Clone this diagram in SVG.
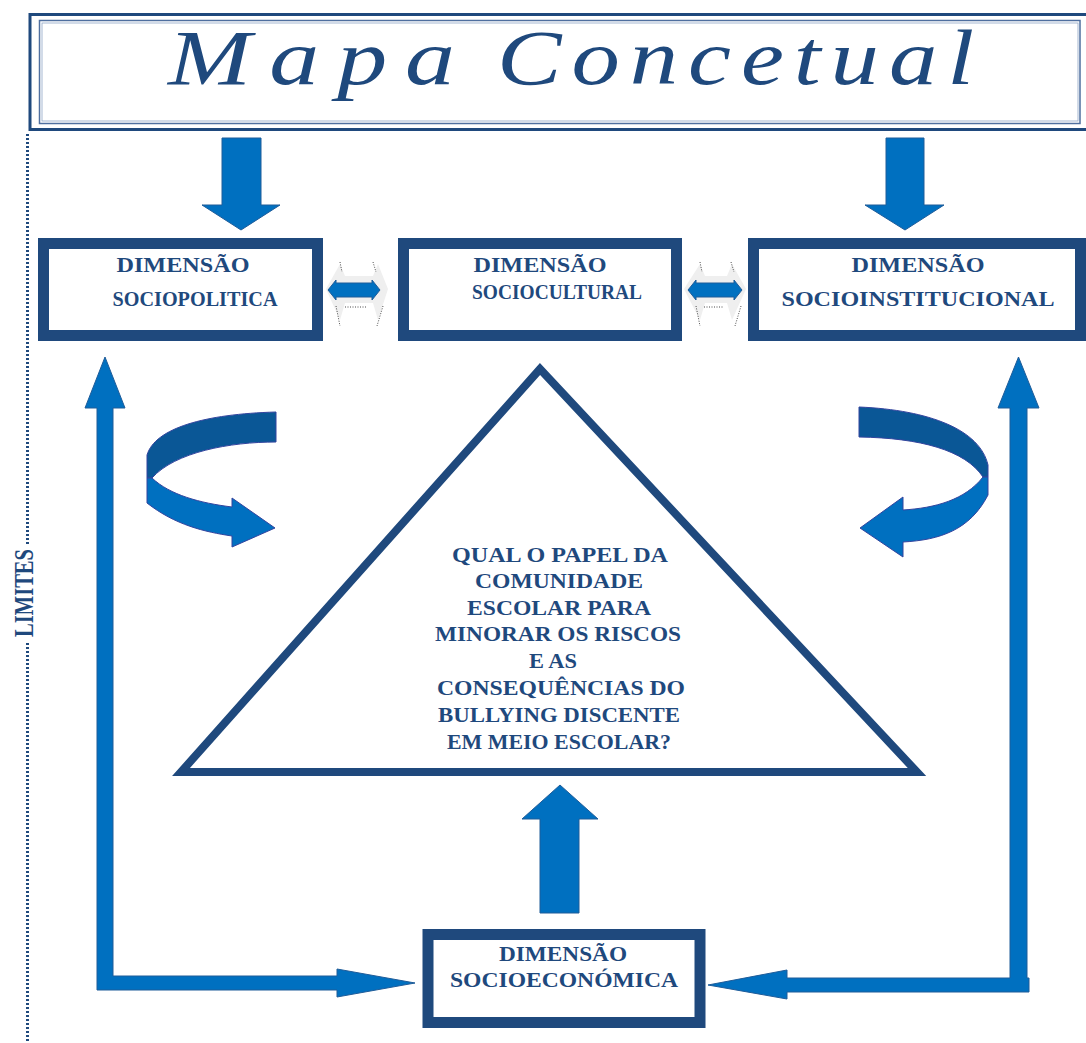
<svg xmlns="http://www.w3.org/2000/svg" width="1086" height="1043" viewBox="0 0 1086 1043">
  <style>
    .box { fill: #ffffff; stroke: #1F497D; stroke-width: 11; }
    .lbl { font-family: "Liberation Serif", "Times New Roman", serif; font-weight: bold; fill: #1F497D; text-anchor: middle; }
    .bl { font-size: 21px; }
    .tq { font-size: 21px; }
    .ttl { font-family: "Liberation Serif", "Times New Roman", serif; font-style: italic; font-size: 78px; fill: #1F497D; }
    .arrow { fill: #0070C0; stroke: #1F5C99; stroke-width: 1; }
    .dark { fill: #0A5796; stroke: #33449E; stroke-width: 1; }
    .light { fill: #0070C0; stroke: #33449E; stroke-width: 1; }
    .shade { fill: #efefef; }
    .dots { fill: none; stroke: #4a4a4a; stroke-width: 1; stroke-dasharray: 1 1.5; }
  </style>
  <rect width="1086" height="1043" fill="#ffffff"/>

  <g id="title">
    <rect x="30" y="14.5" width="1060" height="115" fill="#ffffff" stroke="#1F497D" stroke-width="3"/>
    <rect x="39.5" y="20.5" width="1040.5" height="103" fill="none" stroke="#4F6F9F" stroke-width="1.5"/>
    <rect x="42" y="23" width="1036" height="98" fill="none" stroke="#8FA6C6" stroke-width="0.8"/>
    <text class="ttl" x="168" y="84" letter-spacing="14" textLength="305" lengthAdjust="spacingAndGlyphs">Mapa</text>
    <text class="ttl" x="497" y="84" letter-spacing="8" textLength="487" lengthAdjust="spacingAndGlyphs">Concetual</text>
  </g>

  <g id="limites">
    <line x1="27.5" y1="134" x2="27.5" y2="545" stroke="#1F497D" stroke-width="3" stroke-dasharray="2 2"/>
    <line x1="27.5" y1="643" x2="27.5" y2="1043" stroke="#1F497D" stroke-width="3" stroke-dasharray="2 2"/>
    <text class="lbl" x="0" y="0" font-size="27" text-anchor="middle" textLength="88" lengthAdjust="spacingAndGlyphs" transform="translate(33,593) rotate(-90)">LIMITES</text>
  </g>

  <g id="connectors">
    <!-- top down arrows -->
    <polygon class="arrow" points="222,138 261,138 261,205 280,205 241,230 202,205 222,205"/>
    <polygon class="arrow" points="886,138 924,138 924,205 944,205 905,230 865,205 886,205"/>
    <!-- double-headed arrows between top boxes -->
    <g id="dbl-1">
      <polygon class="shade" points="340,264 345,276 373,276 378,264 388,289 378,320 373,303 345,303 340,320 326,289"/>
      <path class="dots" d="M340,262 L342,272 M373,262 L376,272 M336,306 L340,326 M383,306 L377,326 M345,307 L366,307"/>
      <polygon class="arrow" points="328,290 336,280 336,283 372,283 372,280 380,290 372,300 372,297 336,297 336,300"/>
    </g>
    <g id="dbl-2">
      <polygon class="shade" points="700,264 705,276 727,276 732,264 746,289 732,320 727,303 705,303 700,320 684,289"/>
      <path class="dots" d="M700,262 L702,272 M731,262 L734,272 M696,306 L700,326 M741,306 L735,326 M704,307 L724,307"/>
      <polygon class="arrow" points="688,290 696,280 696,283 734,283 734,280 742,290 734,300 734,297 696,297 696,300"/>
    </g>
    <!-- curved arrows -->
    <g id="curve-left">
      <path class="dark" d="M276,412 C205,414 155,428 147,455 L147,478 L152,478 C175,452 230,442 276,442 Z"/>
      <path class="light" d="M147,478 L147,503 C175,525 205,532 232,536 L232,547 L275,528 L232,498 L232,507 C200,503 170,495 152,478 Z"/>
    </g>
    <g id="curve-right">
      <path class="dark" d="M859,407 C930,410 980,430 988,465 L988,477 L983,477 C965,450 920,438 859,437 Z"/>
      <path class="light" d="M988,477 L988,495 C970,530 940,540 903,542 L903,557 L860,528 L903,497 L903,510 C935,508 965,500 983,477 Z"/>
    </g>
    <!-- left L arrow up to sociopolitica and right to socioeconomica -->
    <polygon class="arrow" points="105,357 125,408 113,408 113,976 337,976 337,969 415,983 337,997 337,990 97,990 97,408 85,408"/>
    <!-- right L arrow up to socioinstitucional and left to socioeconomica -->
    <polygon class="arrow" points="1018.5,357 1039,408 1027,408 1027,978 1029,978 1029,992 787,992 787,999 708,985 787,970 787,978 1010,978 1010,408 998,408"/>
    <!-- center up arrow -->
    <polygon class="arrow" points="560,785 598,819 579,819 579,913 540,913 540,819 522,819"/>
  </g>

  <g id="box-sociopolitica">
    <rect class="box" x="43.5" y="243.5" width="274" height="92"/>
    <text class="lbl bl" x="183" y="272" textLength="133" lengthAdjust="spacingAndGlyphs">DIMENSÃO</text>
    <text class="lbl bl" x="195" y="306" textLength="165" lengthAdjust="spacingAndGlyphs">SOCIOPOLITICA</text>
  </g>

  <g id="box-sociocultural">
    <rect class="box" x="403.5" y="243.5" width="273" height="92"/>
    <text class="lbl bl" x="540" y="272" textLength="133" lengthAdjust="spacingAndGlyphs">DIMENSÃO</text>
    <text class="lbl bl" x="557" y="299" textLength="170" lengthAdjust="spacingAndGlyphs">SOCIOCULTURAL</text>
  </g>

  <g id="box-socioinstitucional">
    <rect class="box" x="753.5" y="243.5" width="327" height="92"/>
    <text class="lbl bl" x="918" y="272" textLength="133" lengthAdjust="spacingAndGlyphs">DIMENSÃO</text>
    <text class="lbl bl" x="918" y="306" textLength="273" lengthAdjust="spacingAndGlyphs">SOCIOINSTITUCIONAL</text>
  </g>

  <g id="box-socioeconomica">
    <rect class="box" x="428" y="934.5" width="272" height="88"/>
    <text class="lbl bl" x="563" y="961" textLength="128" lengthAdjust="spacingAndGlyphs">DIMENSÃO</text>
    <text class="lbl bl" x="564" y="987" textLength="228" lengthAdjust="spacingAndGlyphs">SOCIOECONÓMICA</text>
  </g>

  <g id="question">
    <polygon points="540,369 181,772 917,772" fill="#ffffff" stroke="#1F497D" stroke-width="8"/>
    <text class="lbl tq" x="560" y="562" textLength="216" lengthAdjust="spacingAndGlyphs">QUAL O PAPEL DA</text>
    <text class="lbl tq" x="559" y="588" textLength="168" lengthAdjust="spacingAndGlyphs">COMUNIDADE</text>
    <text class="lbl tq" x="559" y="615" textLength="184" lengthAdjust="spacingAndGlyphs">ESCOLAR PARA</text>
    <text class="lbl tq" x="558" y="641" textLength="246" lengthAdjust="spacingAndGlyphs">MINORAR OS RISCOS</text>
    <text class="lbl tq" x="553" y="668" textLength="48" lengthAdjust="spacingAndGlyphs">E AS</text>
    <text class="lbl tq" x="561" y="695" textLength="248" lengthAdjust="spacingAndGlyphs">CONSEQUÊNCIAS DO</text>
    <text class="lbl tq" x="559" y="722" textLength="242" lengthAdjust="spacingAndGlyphs">BULLYING DISCENTE</text>
    <text class="lbl tq" x="559" y="749" textLength="224" lengthAdjust="spacingAndGlyphs">EM MEIO ESCOLAR?</text>
  </g>
</svg>
